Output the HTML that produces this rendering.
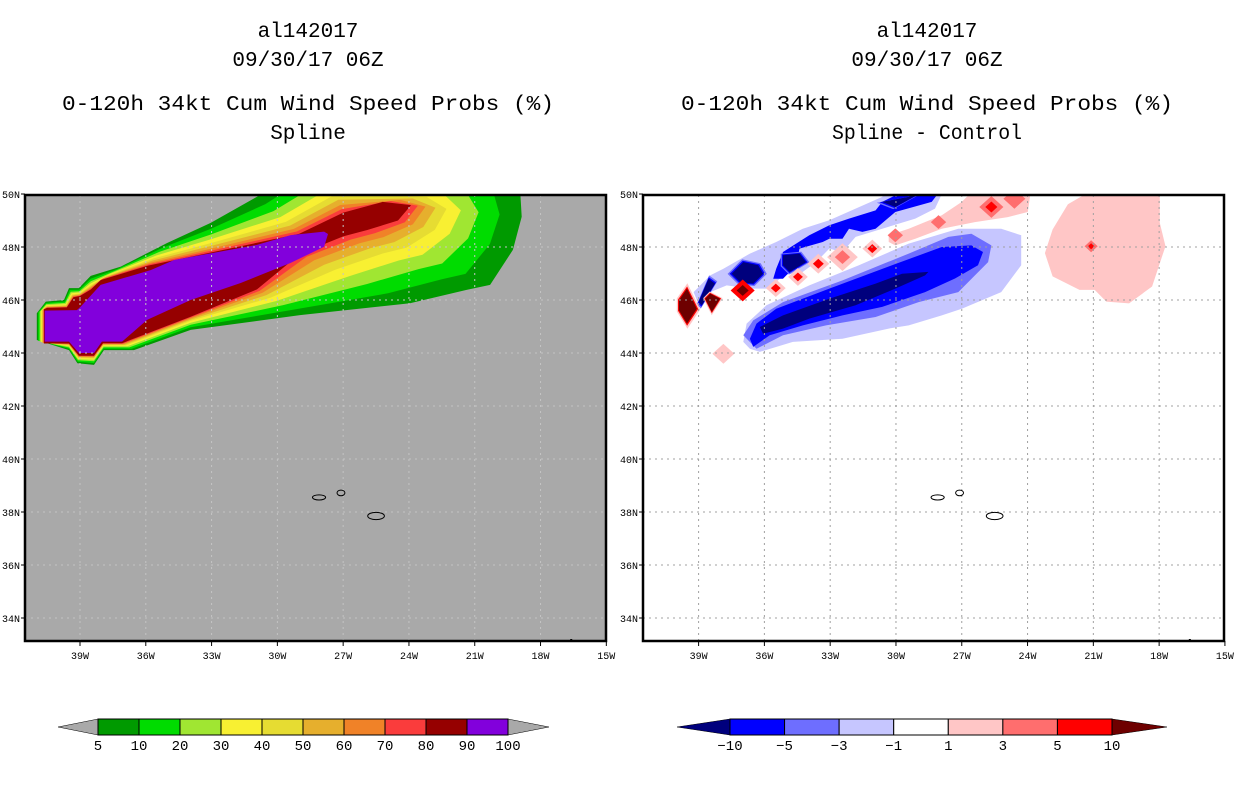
<!DOCTYPE html>
<html><head><meta charset="utf-8"><style>
html,body{margin:0;padding:0;background:#fff;}
svg{display:block;}
text{font-family:"Liberation Mono","DejaVu Sans Mono",monospace;fill:#000;}
</style></head><body>
<svg id="chart" width="1236" height="800" viewBox="0 0 1236 800" xmlns="http://www.w3.org/2000/svg">
<defs>
<clipPath id="clipL"><rect x="25" y="195" width="581" height="446"/></clipPath>
<clipPath id="clipR"><rect x="643" y="195" width="581" height="446"/></clipPath>
</defs>
<g font-size="21" text-anchor="middle">
<text x="308" y="37">al142017</text>
<text x="308" y="66">09/30/17 06Z</text>
<text x="308" y="110" textLength="492" lengthAdjust="spacingAndGlyphs">0-120h 34kt Cum Wind Speed Probs (%)</text>
<text x="308" y="139">Spline</text>
</g>
<g font-size="21" text-anchor="middle">
<text x="927" y="37">al142017</text>
<text x="927" y="66">09/30/17 06Z</text>
<text x="927" y="110" textLength="492" lengthAdjust="spacingAndGlyphs">0-120h 34kt Cum Wind Speed Probs (%)</text>
<text x="927" y="139" textLength="190" lengthAdjust="spacingAndGlyphs">Spline - Control</text>
</g>
<rect x="25" y="195" width="581" height="446" fill="#a9a9a9"/>
<g id="plumeL" clip-path="url(#clipL)"></g>
<g id="gridL" clip-path="url(#clipL)"></g>
<g id="islandsL"></g>
<rect x="25" y="195" width="581" height="446" fill="none" stroke="#000" stroke-width="2.5"/>
<g id="axesL"></g>

<rect x="643" y="195" width="581" height="446" fill="#fff"/>
<g id="plumeR" clip-path="url(#clipR)"></g>
<g id="gridR" clip-path="url(#clipR)"></g>
<g id="islandsR"></g>
<rect x="643" y="195" width="581" height="446" fill="none" stroke="#000" stroke-width="2.5"/>
<g id="axesR"></g>

<g id="cbarL"></g>
<g id="cbarR"></g>
</svg>
<script>
const lonTicks = [-39,-36,-33,-30,-27,-24,-21,-18,-15];
const latTicks = [34,36,38,40,42,44,46,48,50];
const probLevels = ["5","10","20","30","40","50","60","70","80","90","100"];
const probColors = ["#009a00","#00dc00","#a0e632","#f8f032","#e6dc32","#e6af2d","#f08228","#fa3c3c","#960000","#8200dc"];
// relative position of each contour level between the 5% and 80% outlines
const probLevelFrac = [0,0.2,0.39,0.55,0.68,0.78,0.87,0.94,1];
const diffLevels = ["-10","-5","-3","-1","1","3","5","10"];
const diffColors = ["#00007d","#0000ff","#6e6eff","#c6c6ff","#ffffff","#ffc6c6","#ff6e6e","#ff0000","#6e0000"];

const probOuter = [[-40.97,45.5],[-40.56,45.94],[-39.73,46.0],[-39.5,46.45],[-39.05,46.45],[-38.51,46.91],[-37.14,47.26],[-35.03,48.15],[-33.04,48.91],[-30.93,49.9],[-28.0,51.5],[-18.94,50.3],[-18.86,49.14],[-19.26,47.89],[-20.3,46.57],[-21.37,46.38],[-23.95,45.88],[-28.97,45.43],[-33.95,44.87],[-36.54,44.11],[-37.91,44.11],[-38.36,43.55],[-39.12,43.61],[-39.5,44.11],[-40.97,44.49]];
const probInner = [[-40.64,45.65],[-40.5,45.7],[-39.6,45.72],[-39.3,46.1],[-39.0,46.15],[-38.5,46.4],[-38.06,46.75],[-35.9,47.3],[-32.98,47.8],[-29.0,48.5],[-27.0,49.3],[-25.2,49.7],[-23.9,49.58],[-24.5,49.0],[-25.9,48.64],[-27.0,48.4],[-28.97,47.74],[-30.93,46.4],[-33.95,45.37],[-37.08,44.37],[-37.95,44.37],[-38.36,43.9],[-39.05,43.9],[-39.5,44.36],[-40.64,44.36]];
const probCore = [[-40.61,45.6],[-39.14,45.62],[-38.97,45.75],[-38.06,46.57],[-35.78,47.13],[-34.71,47.51],[-32.98,47.77],[-30.93,48.08],[-29.39,48.45],[-27.87,48.58],[-27.69,48.49],[-27.87,48.01],[-29.39,47.4],[-31.67,46.64],[-33.95,46.0],[-35.94,45.25],[-37.08,44.43],[-38.0,44.43],[-38.36,44.0],[-39.05,44.0],[-39.5,44.43],[-40.61,44.43]];

const diffLight = [[-36.96,44.42],[-36.81,45.11],[-35.91,45.8],[-33.95,46.55],[-31.69,47.31],[-29.42,48.13],[-27.16,48.69],[-25.2,48.69],[-24.29,48.44],[-24.29,47.31],[-25.2,46.3],[-27.0,45.67],[-27.91,45.42],[-29.42,45.04],[-30.33,44.92],[-32.44,44.54],[-34.7,44.42],[-36.21,44.04],[-36.66,44.16]];
const diffMed = [[-36.96,44.67],[-36.51,45.23],[-35.15,45.92],[-32.44,46.74],[-29.42,47.75],[-27.61,48.38],[-26.56,48.5],[-25.65,48.06],[-25.8,47.43],[-27.16,46.3],[-28.97,45.92],[-30.93,45.36],[-33.19,45.04],[-35.15,44.67],[-36.36,44.16]];
const diffBlue = [[-36.66,44.54],[-36.36,45.11],[-35.46,45.67],[-33.04,46.43],[-30.18,47.31],[-27.91,48.0],[-26.56,48.06],[-26.03,47.81],[-26.26,47.31],[-27.31,46.81],[-28.67,46.3],[-30.63,45.74],[-32.44,45.42],[-34.25,45.04],[-35.76,44.67],[-36.51,44.23]];
const diffNavy = [[-36.21,44.98],[-35.15,45.42],[-33.04,46.05],[-30.93,46.62],[-29.72,46.99],[-28.52,47.06],[-28.67,46.93],[-30.03,46.43],[-31.84,45.8],[-33.95,45.3],[-35.15,44.92],[-36.06,44.73]];
const diffUpperLight = [[-39.23,46.3],[-38.47,46.93],[-37.87,47.18],[-36.66,47.75],[-35.46,48.19],[-34.25,48.69],[-33.04,49.01],[-31.84,49.45],[-30.63,49.89],[-30.3,50.3],[-27.6,50.3],[-27.91,50.0],[-28.22,49.45],[-29.12,49.07],[-30.63,48.69],[-31.84,48.38],[-32.44,47.81],[-33.04,47.94],[-33.64,47.43],[-34.25,47.06],[-35.15,46.93],[-35.76,46.43],[-36.66,46.43],[-37.72,46.55],[-38.47,46.3],[-38.92,45.67]];
const diffUpperBlue = [[-35.46,47.18],[-35.15,47.81],[-33.95,48.44],[-33.04,48.82],[-32.14,49.07],[-30.93,49.38],[-30.63,49.7],[-29.42,50.2],[-27.91,50.2],[-28.37,49.7],[-30.03,49.32],[-30.93,48.69],[-31.53,48.57],[-32.14,48.69],[-32.44,48.31],[-33.04,48.31],[-33.34,48.19],[-34.4,47.94],[-34.55,47.31],[-35.15,46.8],[-35.6,46.8]];
const diffNavyBlobs = [
  [[-35.15,47.69],[-34.4,47.75],[-34.1,47.43],[-34.85,47.06],[-35.15,47.31]],
  [[-37.49,46.99],[-36.96,47.43],[-36.28,47.31],[-36.06,46.99],[-36.51,46.62],[-37.11,46.68]],
  [[-39.0,45.92],[-38.55,46.8],[-38.25,46.62],[-38.85,45.8]],
  [[-30.63,49.7],[-29.42,49.89],[-28.52,50.2],[-30.03,49.51]]
];
const diffPinkBand = [[-30.33,48.44],[-29.42,48.69],[-27.91,49.2],[-27.0,49.7],[-26.4,50.2],[-23.84,50.2],[-23.99,49.32],[-24.9,49.13],[-26.4,48.94],[-27.91,48.69],[-29.12,48.31],[-30.03,48.06],[-30.33,48.19]];
const diffPinkEast = [[-22.16,49.61],[-20.94,50.2],[-17.97,50.2],[-17.97,48.91],[-17.71,48.03],[-17.97,47.39],[-18.32,46.51],[-19.37,45.87],[-20.41,45.94],[-20.94,46.38],[-21.63,46.38],[-22.86,46.89],[-23.21,47.77],[-22.86,48.66]];
const darkRedBlobs = [
  [[-39.9,45.99],[-39.53,46.43],[-39.08,45.67],[-39.53,45.11],[-39.9,45.61]],
  [[-38.7,46.05],[-38.47,46.24],[-38.02,46.05],[-38.4,45.55]]
];
const spotLon = [-36.99,-35.48,-34.47,-33.54,-32.44,-31.08,-30.03,-28.06,-25.65,-24.6,-37.87,-21.1];
const spotLat = [46.36,46.45,46.87,47.37,47.62,47.94,48.44,48.94,49.51,49.82,43.97,48.03];
const spotSize = [0.55,0.45,0.45,0.5,0.7,0.45,0.35,0.35,0.55,0.5,0.5,0.3];
const spotOuter = [7,5,5,5,5,5,6,6,6,6,5,6];
const spotInner = [8,7,7,7,6,7,6,6,7,6,5,7];

const islands = [[-28.1,38.55,0.3,0.06],[-27.1,38.72,0.18,0.07],[-25.5,37.85,0.38,0.1]];

const NS = "http://www.w3.org/2000/svg";
function xL(lon){return 80 + (lon + 39) * 21.93;}
function xR(lon){return 698.6 + (lon + 39) * 21.93;}
function yM(lat){return 194 + (50 - lat) * 26.5;}
function mk(tag, attrs, parent){const e=document.createElementNS(NS,tag);for(const k in attrs)e.setAttribute(k,attrs[k]);parent.appendChild(e);return e;}
function pts(arr, fx){return arr.map(p=>fx(p[0]).toFixed(1)+","+yM(p[1]).toFixed(1)).join(" ");}

const gL = document.getElementById("plumeL");
probLevelFrac.forEach((t,i)=>{
  const poly = probOuter.map((p,j)=>[p[0]+(probInner[j][0]-p[0])*t, p[1]+(probInner[j][1]-p[1])*t]);
  const e = mk("polygon",{points:pts(poly,xL),fill:probColors[i]},gL);
  
  
});
const core = mk("polygon",{points:pts(probCore,xL),fill:probColors[9]},gL);



const gR = document.getElementById("plumeR");
function rpoly(arr, ci, name){
  const e = mk("polygon",{points:pts(arr,xR),fill:diffColors[ci]},gR);
  
  
}
function scaled(c,k){
  const cx = c.reduce((s,p)=>s+p[0],0)/c.length, cy = c.reduce((s,p)=>s+p[1],0)/c.length;
  return c.map(p=>[cx+(p[0]-cx)*k, cy+(p[1]-cy)*k]);
}
rpoly(diffPinkEast,5,"positive-diff-east");
rpoly(diffPinkBand,5,"positive-diff-band");
rpoly(diffUpperLight,3,"negative-diff-north-light");
rpoly(diffUpperBlue,1,"negative-diff-north-blue");
diffNavyBlobs.forEach((b,i)=>{
  rpoly(scaled(b,1.25),2,"negative-diff-north-halo-"+i);
  rpoly(scaled(b,1.12),1,"negative-diff-north-ring-"+i);
  rpoly(b,0,"negative-diff-north-core-"+i);
});
rpoly(diffLight,3,"negative-diff-main-light");
rpoly(diffMed,2,"negative-diff-main-medium");
rpoly(diffBlue,1,"negative-diff-main-blue");
rpoly(diffNavy,0,"negative-diff-main-core");
darkRedBlobs.forEach((b,i)=>{
  rpoly(scaled(b,1.3),5,"positive-diff-west-halo-"+i);
  rpoly(scaled(b,1.12),7,"positive-diff-west-ring-"+i);
  rpoly(b,8,"positive-diff-west-core-"+i);
});
for(let i=0;i<spotLon.length;i++){
  const s = spotSize[i];
  const d = (lon,lat,k)=>[[lon-s*k,lat],[lon,lat+s*0.75*k],[lon+s*k,lat],[lon,lat-s*0.75*k]];
  rpoly(d(spotLon[i],spotLat[i],1),spotOuter[i],"diff-spot-outer-"+i);
  rpoly(d(spotLon[i],spotLat[i],0.5),spotInner[i],"diff-spot-inner-"+i);
}

function axes(gid, aid, fx, left, right, gridColor){
  const g = document.getElementById(gid), a = document.getElementById(aid);
  lonTicks.forEach(lon=>{
    const x = fx(lon);
    const gl = mk("line",{x1:x,y1:195,x2:x,y2:641,stroke:gridColor,"stroke-width":1,"stroke-dasharray":"2,4"},g);
    
    
    mk("line",{x1:x,y1:641,x2:x,y2:646,stroke:"#000","stroke-width":1},a);
    const t = mk("text",{x:x,y:659,"font-size":10,"text-anchor":"middle"},a);
    t.textContent = (-lon)+"W";
    
    
  });
  latTicks.forEach(lat=>{
    const y = yM(lat);
    if(lat<50){
      const gl = mk("line",{x1:left,y1:y,x2:right,y2:y,stroke:gridColor,"stroke-width":1,"stroke-dasharray":"2,4"},g);
      
      
    }
    mk("line",{x1:left-4,y1:y,x2:left,y2:y,stroke:"#000","stroke-width":1},a);
    const t = mk("text",{x:left-5,y:y+4,"font-size":10,"text-anchor":"end"},a);
    t.textContent = lat+"N";
    
    
  });
}
axes("gridL","axesL",xL,25,606,"#c4c4c4");
axes("gridR","axesR",xR,643,1224,"#a0a0a0");

function drawIslands(gid, fx){
  const g = document.getElementById(gid);
  islands.forEach((p,i)=>{
    const e = mk("ellipse",{cx:fx(p[0]),cy:yM(p[1]),rx:p[2]*21.93,ry:p[3]*26.5+1,fill:"none",stroke:"#000","stroke-width":1},g);
    
    
  });
  const d = mk("rect",{x:fx(-16.6)-1,y:639,width:2,height:2,fill:"#000"},g);
  
  
}
drawIslands("islandsL",xL);
drawIslands("islandsR",xR);

function cbar(gid, x0, x1, tipL, tipR, colors, labels, lcol, rcol, prefix){
  const g = document.getElementById(gid);
  const n = colors.length, w = (x1-x0)/n, y0=719, y1=735, ym=(y0+y1)/2;
  const tl = mk("polygon",{points:`${tipL},${ym} ${x0},${y0} ${x0},${y1}`,fill:lcol,stroke:"#000","stroke-width":0.5},g);
  
  
  const tr = mk("polygon",{points:`${tipR},${ym} ${x1},${y0} ${x1},${y1}`,fill:rcol,stroke:"#000","stroke-width":0.5},g);
  
  
  colors.forEach((c,i)=>{
    const r = mk("rect",{x:x0+i*w,y:y0,width:w,height:y1-y0,fill:c,stroke:"#000","stroke-width":1},g);
    
    
  });
  labels.forEach((l,i)=>{
    const t = mk("text",{x:x0+i*w,y:750,"font-size":14,"text-anchor":"middle"},g);
    t.textContent = l.replace("-","\u2212");
    
    
  });
}
cbar("cbarL",98,508,58,549,probColors,probLevels,"#a9a9a9","#a9a9a9","prob-colorbar");
cbar("cbarR",730,1112,677,1167,diffColors.slice(1,8),diffLevels,diffColors[0],diffColors[8],"diff-colorbar");
</script>
</body></html>
